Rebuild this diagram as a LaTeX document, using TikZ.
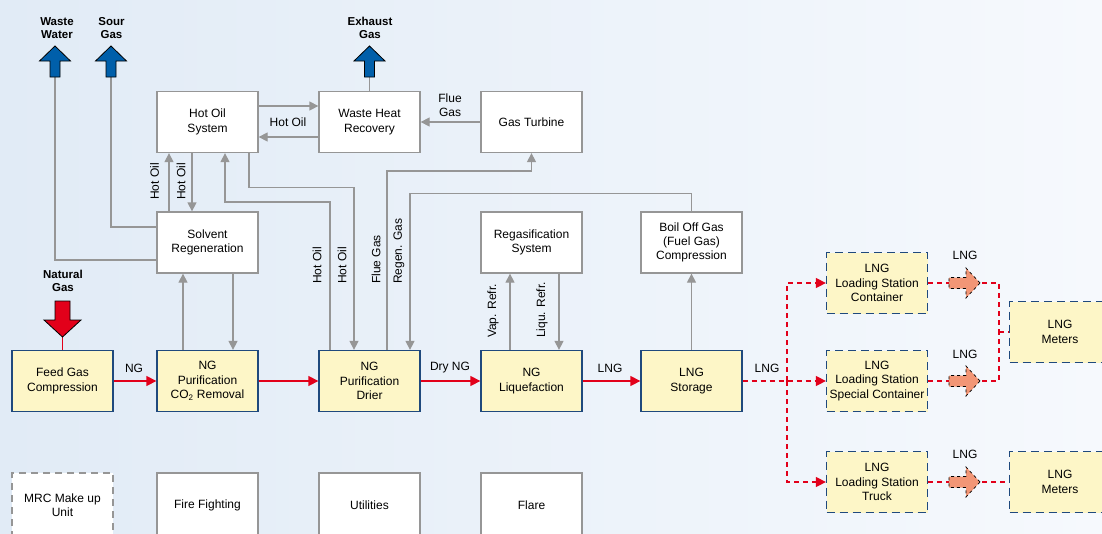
\documentclass[tikz,border=0pt]{standalone}
\usepackage{fontspec}
\setmainfont{Liberation Sans}
\usetikzlibrary{arrows.meta}
\definecolor{bgL}{RGB}{225,235,246}
\definecolor{bgR}{RGB}{246,249,253}
\definecolor{yfill}{RGB}{253,246,199}
\definecolor{bblue}{RGB}{31,73,125}
\definecolor{gline}{RGB}{150,150,150}
\definecolor{gborder}{RGB}{150,150,150}
\definecolor{rline}{RGB}{226,0,26}
\definecolor{arrblue}{RGB}{0,95,170}
\definecolor{salmon}{RGB}{242,150,118}
\begin{document}
\begin{tikzpicture}[x=1pt,y=-1pt,
 txt/.style={font=\fontsize{12}{14.3}\selectfont, align=center, inner sep=0pt},
 boldlab/.style={font=\bfseries\fontsize{11.5}{13.7}\selectfont, align=center, inner sep=0pt},
 box/.style={txt, minimum width=101pt, minimum height=61pt, line width=1.3pt},
 ybox/.style={box, fill=yfill, draw=bblue},
 wbox/.style={box, fill=white, draw=gborder},
 dbox/.style={ybox, dash pattern=on 8pt off 5pt},
 gl/.style={draw=gline, line width=1.3pt},
 ga/.style={gl, -{Triangle[length=9pt,width=9pt]}},
 rl/.style={draw=rline, line width=1.3pt, -{Triangle[length=10pt,width=10pt]}},
 rd/.style={draw=rline, line width=1.4pt, dash pattern=on 5pt off 4pt},
 rda/.style={rd, -{Triangle[length=10pt,width=10pt]}},
 rlab/.style={txt, rotate=90, anchor=west},
 uparr/.pic={\draw[fill=arrblue, draw=black, line width=0.8pt] (-5,0) -- (-5,-16) -- (-15.5,-16) -- (0,-31) -- (15.5,-16) -- (5,-16) -- (5,0) -- cycle;},
 downarr/.pic={\draw[fill=rline, draw=black, line width=0.8pt] (0,0) -- (-18.5,-17) -- (-7.5,-17) -- (-7.5,-36) -- (7.5,-36) -- (7.5,-17) -- (18.5,-17) -- cycle;},
 rarr/.pic={\draw[fill=salmon, draw=black, line width=0.7pt, dash pattern=on 3pt off 3pt] (0,0) -- (-14,-15) -- (-14,-5.5) -- (-31,-5.5) -- (-31,5.5) -- (-14,5.5) -- (-14,15) -- cycle;},
]
\clip (0,0) rectangle (1102,533);
\shade[left color=bgL, right color=bgR] (0,0) rectangle (1102,533);

% nodes
\node[wbox] (hos) at (207.5,122) {Hot Oil\\System};
\node[wbox] (whr) at (369.5,122) {Waste Heat\\Recovery};
\node[wbox] (gt) at (531.5,122) {Gas Turbine};
\node[wbox] (sr) at (207.5,242.5) {Solvent\\Regeneration};
\node[wbox] (rg) at (531.5,242.5) {Regasification\\System};
\node[wbox] (bog) at (691.5,242.5) {Boil Off Gas\\(Fuel Gas)\\Compression};
\node[ybox] (fgc) at (62.5,381) {Feed Gas\\Compression};
\node[ybox] (co2) at (207.5,381) {NG\\Purification\\CO\textsubscript{2} Removal};
\node[ybox] (dr) at (369.5,381) {NG\\Purification\\Drier};
\node[ybox] (liq) at (531.5,381) {NG\\Liquefaction};
\node[ybox] (sto) at (691.5,381) {LNG\\Storage};
\node[dbox] (ls1) at (877,283) {LNG\\Loading Station\\Container};
\node[dbox] (ls2) at (877,381) {LNG\\Loading Station\\Special Container};
\node[dbox] (ls3) at (877,482) {LNG\\Loading Station\\Truck};
\node[dbox] (m1) at (1060,332) {LNG\\Meters};
\node[dbox] (m2) at (1060,482) {LNG\\Meters};
\node[wbox, minimum height=64pt, dash pattern=on 7pt off 5pt] (mrc) at (62.5,505) {MRC Make up\\Unit};
\node[wbox, minimum height=64pt] (ff) at (207.5,505) {Fire Fighting};
\node[wbox, minimum height=64pt] (ut) at (369.5,505) {Utilities};
\node[wbox, minimum height=64pt] (fl) at (531.5,505) {Flare};

% outlet arrows
\coordinate (ww) at (55,77);
\coordinate (sg) at (111,77);
\coordinate (ex) at (369.5,77);
\coordinate (ngtip) at (62.5,337);
\draw[gl] ([yshift=-17.5pt]sr.west) -| (ww);
\draw[gl] ([yshift=15.5pt]sr.west) -| (sg);
\draw[gl] (whr.north) -- (ex);
\pic at (ww) {uparr};
\pic at (sg) {uparr};
\pic at (ex) {uparr};
\node[boldlab] (lww) at (57,28) {Waste\\Water};
\node[boldlab] (lsg) at (111.5,28) {Sour\\Gas};
\node[boldlab] (lex) at (370,28) {Exhaust\\Gas};
\draw[draw=rline, line width=1.2pt] (ngtip) -- (fgc.north);
\pic at (ngtip) {downarr};
\node[boldlab] (lng0) at (63,281) {Natural\\Gas};

% hot oil / flue gas loop
\draw[ga] ([yshift=16pt]hos.east) -- ([yshift=16pt]whr.west);
\draw[ga] ([yshift=-15pt]whr.west) -- ([yshift=-15pt]hos.east);
\node[txt] (lho) at (288,122) {Hot Oil};
\draw[ga] (gt.west) -- (whr.east);
\node[txt] (lfg) at (450,105) {Flue\\Gas};

\draw[ga] ([xshift=-38.5pt]sr.north) -- ([xshift=-38.5pt]hos.south);
\draw[ga] ([xshift=-15.5pt]hos.south) -- ([xshift=-15.5pt]sr.north);
\node[rlab] (lh1) at (154.5,200) {Hot Oil};
\node[rlab] (lh2) at (181,200) {Hot Oil};

\draw[ga] ([xshift=-39.5pt]dr.north) -- ++(0,-148) -| ([xshift=17.5pt]hos.south);
\draw[ga] ([xshift=41.5pt]hos.south) -- ++(0,34) -| ([xshift=-15.5pt]dr.north);
\draw[ga] ([xshift=17.5pt]dr.north) -- ++(0,-179) -| (gt.south);
\draw[ga] (bog.north) -- ++(0,-18) -| ([xshift=40.5pt]dr.north);
\node[rlab] (lh3) at (317,284) {Hot Oil};
\node[rlab] (lh4) at (342,284) {Hot Oil};
\node[rlab] (lfg2) at (376,284) {Flue Gas};
\node[rlab] (lrg) at (399,284) {Regen. Gas};

\draw[ga] ([xshift=-24.5pt]co2.north) -- ([xshift=-24.5pt]sr.south);
\draw[ga] ([xshift=25.5pt]sr.south) -- ([xshift=25.5pt]co2.north);

\draw[ga] ([xshift=-21.5pt]liq.north) -- ([xshift=-21.5pt]rg.south);
\draw[ga] ([xshift=27.5pt]rg.south) -- ([xshift=27.5pt]liq.north);
\node[rlab] (lvr) at (493,338) {Vap. Refr.};
\node[rlab] (llr) at (542,338) {Liqu. Refr.};

\draw[ga] (sto.north) -- (bog.south);

% main red line
\draw[rl] (fgc.east) -- (co2.west);
\draw[rl] (co2.east) -- (dr.west);
\draw[rl] (dr.east) -- (liq.west);
\draw[rl] (liq.east) -- (sto.west);
\node[txt] (l1) at (134,368) {NG};
\node[txt] (l2) at (450,368) {Dry NG};
\node[txt] (l3) at (610,368) {LNG};
\node[txt] (l4) at (767,368) {LNG};

% dashed distribution
\coordinate (split) at (787,381);
\draw[rda] (sto.east) -- (ls2.west);
\draw[rda] (split) |- (ls1.west);
\draw[rda] (split) |- (ls3.west);

\coordinate (a1) at (980,283);
\coordinate (a2) at (980,381);
\coordinate (a3) at (980,482);
\coordinate (mj) at (999,332);
\draw[rd] (ls1.east) -- (a1) -| (mj);
\draw[rd] (ls2.east) -- (a2) -| (mj);
\draw[rd] (mj) -- (m1.west);
\draw[rd] (ls3.east) -- (a3) -- (m2.west);
\pic at (a1) {rarr};
\pic at (a2) {rarr};
\pic at (a3) {rarr};
\node[txt] (l5) at (965,255) {LNG};
\node[txt] (l6) at (965,354) {LNG};
\node[txt] (l7) at (965,454) {LNG};
\end{tikzpicture}
\end{document}
